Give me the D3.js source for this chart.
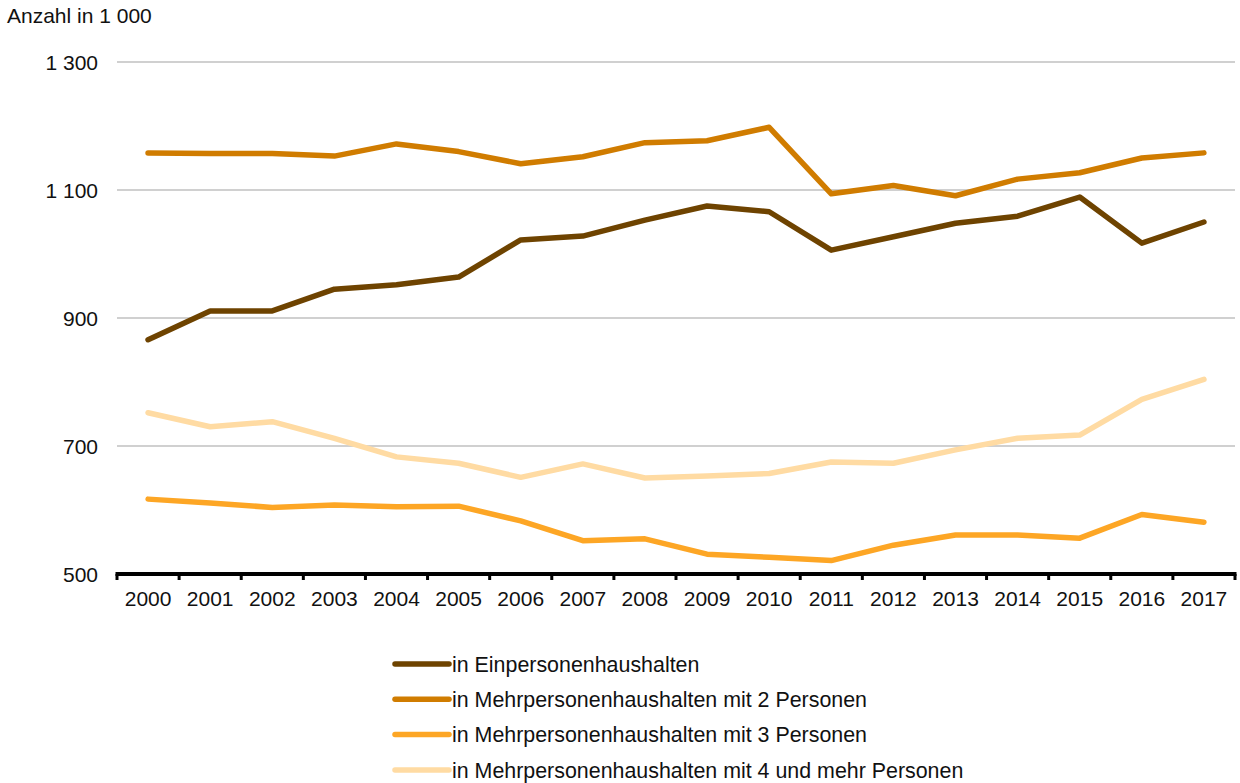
<!DOCTYPE html>
<html lang="de">
<head>
  <meta charset="utf-8">
  <title>Personen in Haushalten</title>
  <script src="https://cdn.jsdelivr.net/npm/d3@7/dist/d3.min.js"></script>
  <style>
    body { margin: 0; background: #fff; }
    text { font-family: "Liberation Sans", Arial, sans-serif; fill: #111; }
  </style>
</head>
<body>
  <script>
    var years = ["2000", "2001", "2002", "2003", "2004", "2005", "2006", "2007", "2008",
                 "2009", "2010", "2011", "2012", "2013", "2014", "2015", "2016", "2017"];
    var einPers = [866, 911, 911, 945, 952, 964, 1022, 1028, 1053, 1075, 1066, 1006, 1027, 1048, 1059, 1089, 1017, 1050];
    var mehr2 = [1158, 1157, 1157, 1153, 1172, 1160, 1141, 1152, 1174, 1177, 1198, 1094, 1107, 1091, 1117, 1127, 1150, 1158];
    var mehr3 = [617, 611, 604, 608, 605, 606, 583, 552, 555, 531, 526, 521, 545, 561, 561, 556, 593, 581];
    var mehr4 = [752, 730, 738, 712, 683, 673, 651, 672, 650, 653, 657, 675, 673, 694, 712, 717, 773, 804];
    var seriesNames = [
      "in Einpersonenhaushalten",
      "in Mehrpersonenhaushalten mit 2 Personen",
      "in Mehrpersonenhaushalten mit 3 Personen",
      "in Mehrpersonenhaushalten mit 4 und mehr Personen"
    ];
    var colors = ["#6e4300", "#d07c00", "#fda625", "#ffdba3"];
    var yTicks = [500, 700, 900, 1100, 1300];

    var series = [einPers, mehr2, mehr3, mehr4].map(function(vals, i) {
      return { name: seriesNames[i], color: colors[i], values: vals };
    });

    var w = 1240, h = 783;
    var margin = { top: 62, left: 117, right: 5, bottom: 209 };
    var fontSize = "21px";

    var svg = d3.select("body").append("svg")
                .attr("width", w)
                .attr("height", h);

    var x = d3.scaleBand()
              .domain(years)
              .range([margin.left, w - margin.right]);
    var y = d3.scaleLinear()
              .domain([500, 1300])
              .range([h - margin.bottom, margin.top]);

    // unit label
    svg.append("text")
       .attr("x", 7)
       .attr("y", 23)
       .style("font-size", fontSize)
       .text("Anzahl in 1 000");

    // gridlines
    svg.append("g")
       .selectAll("line")
       .data(yTicks.filter(function(d) { return d > 500; }))
       .enter()
         .append("line")
         .attr("x1", margin.left)
         .attr("x2", w - margin.right)
         .attr("y1", function(d) { return y(d); })
         .attr("y2", function(d) { return y(d); })
         .attr("stroke", "#d0d0d0")
         .attr("stroke-width", 2);

    // y labels
    svg.append("g")
       .selectAll("text")
       .data(yTicks)
       .enter()
         .append("text")
         .attr("x", 98)
         .attr("y", function(d) { return y(d); })
         .attr("dy", "0.36em")
         .attr("text-anchor", "end")
         .style("font-size", fontSize)
         .text(function(d) { return d3.format(",")(d).replace(",", " "); });

    // x axis
    var xAxis = d3.axisBottom(x).tickSize(0).tickPadding(0);
    var gx = svg.append("g")
                .attr("transform", "translate(0," + y(500) + ")")
                .call(xAxis);
    gx.select(".domain").remove();
    gx.selectAll("text")
      .attr("y", 32)
      .attr("dy", 0)
      .style("font-size", fontSize)
      .style("font-family", "'Liberation Sans', Arial, sans-serif")
      .attr("fill", "#111");

    var bounds = [years[0]].concat(years).map(function(d, i) {
      return i === 0 ? x(years[0]) : x(years[i - 1]) + x.bandwidth();
    });
    gx.selectAll(".sep")
      .data(bounds)
      .enter()
        .append("line")
        .attr("x1", function(d) { return d; })
        .attr("x2", function(d) { return d; })
        .attr("y1", 0)
        .attr("y2", 6)
        .attr("stroke", "#000")
        .attr("stroke-width", 3);
    gx.append("line")
      .attr("x1", bounds[0] - 1.5)
      .attr("x2", bounds[bounds.length - 1] + 1.5)
      .attr("y1", 0)
      .attr("y2", 0)
      .attr("stroke", "#000")
      .attr("stroke-width", 4);

    // lines
    var line = d3.line()
                 .x(function(d, i) { return x(years[i]) + x.bandwidth() / 2; })
                 .y(function(d) { return y(d); });

    svg.append("g")
       .selectAll("path")
       .data(series)
       .enter()
         .append("path")
         .attr("d", function(d) { return line(d.values); })
         .attr("fill", "none")
         .attr("stroke", function(d) { return d.color; })
         .attr("stroke-width", 5.5)
         .attr("stroke-linecap", "round")
         .attr("stroke-linejoin", "round");

    // legend
    var legend = svg.append("g")
                    .selectAll("g")
                    .data(series)
                    .enter()
                      .append("g")
                      .attr("transform", function(d, i) {
                        return "translate(395," + (664 + i * 35.3) + ")";
                      });
    legend.append("line")
          .attr("x1", 0)
          .attr("x2", 54)
          .attr("stroke", function(d) { return d.color; })
          .attr("stroke-width", 5.5)
          .attr("stroke-linecap", "round");
    legend.append("text")
          .attr("x", 57)
          .attr("dy", "0.36em")
          .style("font-size", "21.4px")
          .text(function(d) { return d.name; });
  </script>
</body>
</html>
